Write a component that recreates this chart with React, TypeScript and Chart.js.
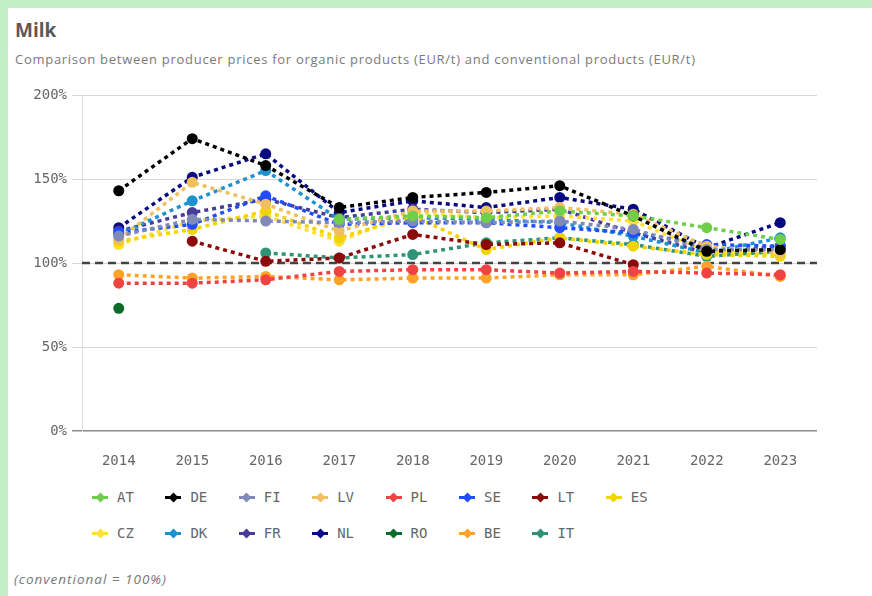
import React, { useEffect, useRef } from "react";
import { Chart, registerables } from "chart.js";

Chart.register(...registerables);

const years = ["2014", "2015", "2016", "2017", "2018", "2019", "2020", "2021", "2022", "2023"];
const yTicks = [0, 50, 100, 150, 200];

const AT = [null, null, null, 126, 128, 127, 131, 128, 121, 114];
const DE = [143, 174, 158, 133, 139, 142, 146, 128, 107, 108];
const FI = [116, 126, 125, 124, 125, 124, 125, 120, 108, 108];
const LV = [114, 148, 135, 119, 131, 131, 133, 129, 110, 106];
const PL = [88, 88, 90, 95, 96, 96, 94, 95, 94, 93];
const SE = [118, 123, 140, 123, 124, 124, 121, 118, 111, 110];
const LT = [null, 113, 101, 103, 117, 111, 112, 99, null, null];
const ES = [113, 120, 131, 115, 128, 108, 115, 110, 105, 104];
const CZ = [111, 125, 128, 113, 130, 127, 128, 125, 107, 105];
const DK = [117, 137, 155, 126, 127, 126, 124, 116, 106, 115];
const FR = [119, 130, 138, 127, 132, 130, 132, 118, 106, 110];
const NL = [121, 151, 165, 130, 137, 133, 139, 132, 109, 124];
const RO = [73, null, null, null, null, null, null, null, null, null];
const BE = [93, 91, 92, 90, 91, 91, 93, 93, 98, 92];
const IT = [null, null, 106, 103, 105, 112, 115, 111, 104, 107];

const seriesNames = ["AT", "DE", "FI", "LV", "PL", "SE", "LT", "ES", "CZ", "DK", "FR", "NL", "RO", "BE", "IT"];
const seriesValues = [AT, DE, FI, LV, PL, SE, LT, ES, CZ, DK, FR, NL, RO, BE, IT];
const seriesColors = [
  "#6fcf4a", "#000000", "#8189b9", "#f0c060", "#f04444", "#1f4dff", "#8b0a0a", "#f2d400",
  "#ffe034", "#1e92d0", "#463c9a", "#0a0a80", "#0b6b2b", "#ffa228", "#2f9476",
];
const referenceValue = 100;

const MONO = "'DejaVu Sans Mono', monospace";

const refLinePlugin = {
  id: "refLine",
  beforeDatasetsDraw(chart: any) {
    const { ctx, chartArea, scales } = chart;
    const y = scales.y.getPixelForValue(referenceValue);
    ctx.save();
    ctx.strokeStyle = "#444444";
    ctx.lineWidth = 2.5;
    ctx.setLineDash([8, 5]);
    ctx.beginPath();
    ctx.moveTo(chartArea.left, y);
    ctx.lineTo(chartArea.right, y);
    ctx.stroke();
    ctx.restore();
  },
};

function LegendItem({ name, color, x, y }: { name: string; color: string; x: number; y: number }) {
  return (
    <div style={{ position: "absolute", left: x - 8, top: y - 10, height: 20, display: "flex", alignItems: "center" }}>
      <div style={{ position: "relative", width: 16, height: 20 }}>
        <div style={{ position: "absolute", left: 0, top: 9, width: 16, height: 2.5, background: color }} />
        <div
          style={{
            position: "absolute", left: 4.5, top: 6.5, width: 7, height: 7, background: color,
            transform: "rotate(45deg)",
          }}
        />
      </div>
      <span style={{ marginLeft: 9, fontFamily: MONO, fontSize: 14, color: "#666" }}>{name}</span>
    </div>
  );
}

export default function App() {
  const ref = useRef<HTMLCanvasElement>(null);

  useEffect(() => {
    if (!ref.current) return;
    const chart = new Chart(ref.current, {
      type: "line",
      data: {
        labels: years,
        datasets: seriesNames.map((n, i) => ({
          label: n,
          data: seriesValues[i],
          borderColor: seriesColors[i],
          backgroundColor: seriesColors[i],
          borderWidth: 3.5,
          borderDash: [4, 4],
          pointRadius: 5.5,
          pointBorderWidth: 0,
          pointHoverRadius: 5.5,
          tension: 0,
          spanGaps: false,
          fill: false,
        })),
      },
      options: {
        animation: false,
        responsive: false,
        devicePixelRatio: 1,
        layout: { padding: { top: 15, right: 23, left: 0, bottom: 0 } },
        plugins: { legend: { display: false }, tooltip: { enabled: false } },
        scales: {
          x: {
            type: "category",
            offset: true,
            grid: { display: false, drawTicks: false },
            border: { display: false },
            ticks: { font: { family: MONO, size: 14 }, color: "#666", padding: 22 },
            afterFit: (s: any) => { s.height = 49; },
          },
          y: {
            min: 0,
            max: 200,
            afterBuildTicks: (s: any) => { s.ticks = yTicks.map((v) => ({ value: v })); },
            ticks: {
              font: { family: MONO, size: 14 },
              color: "#666",
              padding: 5,
              callback: (v: any) => v + "%",
            },
            grid: {
              color: (c: any) => (c.tick && c.tick.value === 0 ? "#8a8a8a" : "#d6d6d6"),
              lineWidth: (c: any) => (c.tick && c.tick.value === 0 ? 1.5 : 1),
              tickLength: 10,
            },
            border: { display: true, color: "#dddddd", width: 1 },
            afterFit: (s: any) => { s.width = 62; },
          },
        },
      },
      plugins: [refLinePlugin],
    } as any);
    return () => chart.destroy();
  }, []);

  const colX = (i: number) => 100 + i * 73.4;

  return (
    <div style={{ position: "fixed", left: 0, top: 0, width: 872, height: 596, background: "#c3efc7", overflow: "hidden" }}>
      <div style={{ position: "absolute", left: 8, top: 8, width: 864, height: 588, background: "#ffffff" }} />
      <div style={{ position: "absolute", left: 15, top: 17, fontFamily: "'Open Sans', sans-serif", fontWeight: 700, fontSize: 19, color: "#5a5a5a" }}>
        Milk
      </div>
      <div style={{ position: "absolute", left: 15, top: 50, fontFamily: "'Open Sans', sans-serif", fontSize: 13, letterSpacing: 0.72, color: "#7a7a7a", whiteSpace: "nowrap" }}>
        Comparison between producer prices for organic products (EUR/t) and conventional products (EUR/t)
      </div>
      <canvas ref={ref} width={820} height={400} style={{ position: "absolute", left: 20, top: 80, width: 820, height: 400 }} />
      {seriesNames.map((n, i) => (
        <LegendItem key={n} name={n} color={seriesColors[i]} x={colX(i % 8)} y={i < 8 ? 497 : 533} />
      ))}
      <div style={{ position: "absolute", left: 14, top: 570, fontFamily: "'Open Sans', sans-serif", fontStyle: "italic", fontSize: 13.5, letterSpacing: 1, color: "#777" }}>
        (conventional = 100%)
      </div>
    </div>
  );
}
